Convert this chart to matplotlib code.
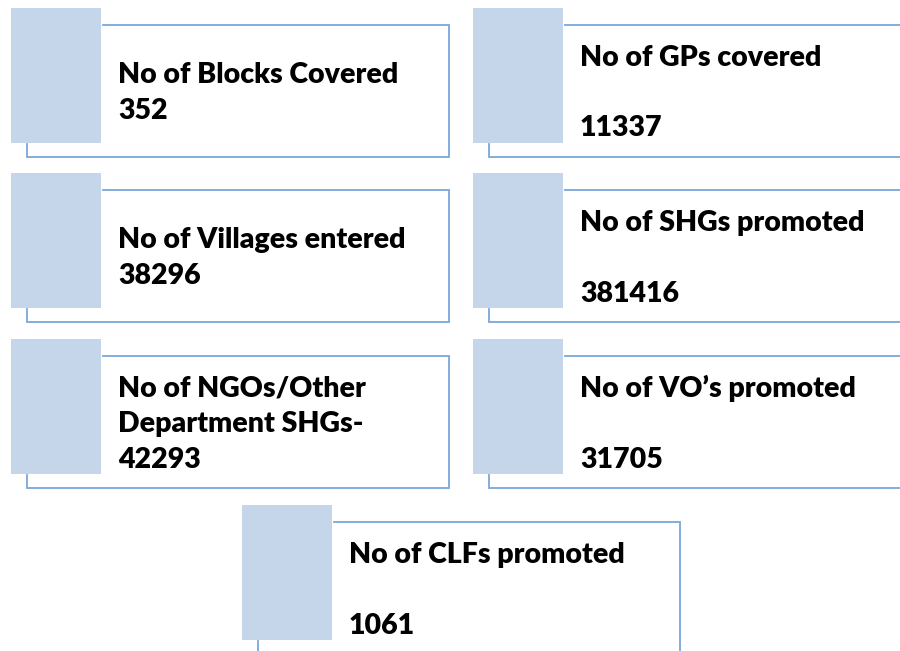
import matplotlib
matplotlib.use('Agg')
import matplotlib.pyplot as plt
from matplotlib.patches import Rectangle

# box contents
labels = ['No of Blocks Covered', 'No of GPs covered\n',
          'No of Villages entered', 'No of SHGs promoted\n',
          'No of NGOs/Other\nDepartment SHGs-', 'No of VO\u2019s promoted\n',
          'No of CLFs promoted\n']
values = ['352', '11337', '38296', '381416', '42293', '31705', '1061']

# top-left corner (pixels) of each light blue tab
origins = [(11, 8), (473, 8), (11, 173), (473, 173),
           (11, 339), (473, 339), (242, 505)]

fill = '#c5d5ea'
edge = '#7ba7db'

fig = plt.figure(figsize=(9, 6.51), dpi=100, facecolor='white')
ax = fig.add_axes([0, 0, 1, 1])
ax.set_xlim(0, 900)
ax.set_ylim(651, 0)
ax.axis('off')

for (x0, y0), lab, val in zip(origins, labels, values):
    # outline: top, right, bottom, small left tick
    ax.plot([x0 + 92, x0 + 438, x0 + 438, x0 + 16, x0 + 16],
            [y0 + 17, y0 + 17, y0 + 149, y0 + 149, y0 + 136],
            color=edge, lw=1.3, solid_joinstyle='miter', clip_on=False)
    ax.add_patch(Rectangle((x0, y0), 90, 135, facecolor=fill,
                           edgecolor='none', zorder=3))
    lines = (lab + '\n' + val).split('\n')
    n = len(lines)
    base = y0 + 83 - (n - 1) * 35.5 / 2 + 10
    for i, s in enumerate(lines):
        ax.text(x0 + 107, base + i * 35.5, s, fontsize=20.5,
                fontweight='heavy', family='Lato', color='black',
                va='baseline', ha='left')

fig.savefig('out.png', dpi=100, facecolor='white')
